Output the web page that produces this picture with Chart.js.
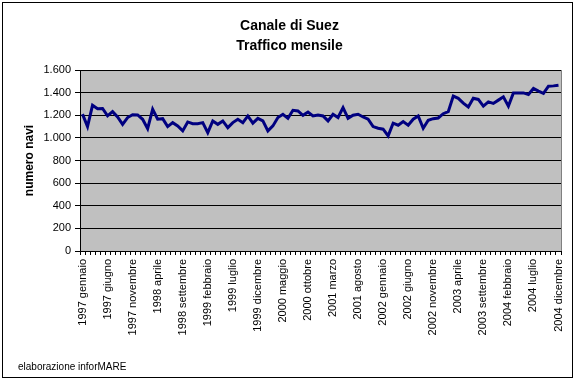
<!DOCTYPE html>
<html>
<head>
<meta charset="utf-8">
<script src="https://cdn.jsdelivr.net/npm/chart.js@4.4.1/dist/chart.umd.min.js"></script>
<style>
  html, body { margin: 0; padding: 0; background: #ffffff; }
  #wrap { width: 579px; height: 384px; }
</style>
</head>
<body>
<div id="wrap"><canvas id="chart" width="579" height="384"></canvas></div>
<script>
// Monthly traffic through the Suez canal, Jan 1997 - Dec 2004
const years = ['1997', '1998', '1999', '2000', '2001', '2002', '2003', '2004'];
const monthNames = ['gennaio', 'febbraio', 'marzo', 'aprile', 'maggio', 'giugno',
  'luglio', 'agosto', 'settembre', 'ottobre', 'novembre', 'dicembre'];

const navi = [
  1210, 1100, 1288, 1258, 1260, 1195, 1232, 1185, 1120, 1180, 1205, 1203, // 1997
  1165, 1082, 1253, 1165, 1170, 1100, 1135, 1106, 1062, 1141, 1126, 1126, // 1998
  1135, 1047, 1150, 1120, 1150, 1091, 1135, 1165, 1135, 1194, 1130, 1173, // 1999
  1150, 1062, 1106, 1180, 1209, 1173, 1244, 1238, 1200, 1229, 1194, 1203, // 2000
  1194, 1150, 1209, 1180, 1268, 1173, 1200, 1209, 1185, 1165, 1100, 1085, // 2001
  1077, 1018, 1130, 1112, 1144, 1112, 1165, 1194, 1085, 1156, 1170, 1176, // 2002
  1214, 1232, 1370, 1350, 1308, 1273, 1350, 1340, 1281, 1319, 1305, 1334, // 2003
  1363, 1281, 1398, 1398, 1398, 1384, 1437, 1413, 1393, 1457, 1460, 1466  // 2004
];

const labelEvery = 5;
const yMax = 1600;
const yStep = 200;

const labels = [];
years.forEach(y => monthNames.forEach(m => labels.push(y + ' ' + m)));

function formatThousands(v) {
  return String(v).replace(/\B(?=(\d{3})+(?!\d))/g, '.');
}

const FONT = '"Liberation Sans", Arial, sans-serif';
Chart.defaults.font.family = FONT;
Chart.defaults.color = '#000000';

// grey plot area, outer frame
const backdrop = {
  id: 'backdrop',
  beforeDraw(chart) {
    const { ctx, chartArea: a } = chart;
    ctx.save();
    ctx.fillStyle = '#ffffff';
    ctx.fillRect(0, 0, chart.width, chart.height);
    ctx.fillStyle = '#c0c0c0';
    ctx.fillRect(a.left, a.top, a.right - a.left, a.bottom - a.top);
    ctx.strokeStyle = '#808080';
    ctx.lineWidth = 1;
    ctx.strokeRect(a.left + 0.5, a.top + 0.5, a.right - a.left, a.bottom - a.top);
    ctx.strokeStyle = '#000000';
    ctx.strokeRect(2.5, 2.5, 570, 375);
    ctx.restore();
  }
};

new Chart(document.getElementById('chart'), {
  type: 'line',
  data: {
    labels: labels,
    datasets: [{
      label: 'numero navi',
      data: navi,
      borderColor: '#000080',
      borderWidth: 3,
      pointRadius: 0,
      tension: 0,
      fill: false,
    }]
  },
  options: {
    responsive: false,
    animation: false,
    devicePixelRatio: 1,
    layout: { padding: { left: 18, right: 18, top: 0, bottom: 0 } },
    plugins: {
      legend: { display: false },
      tooltip: { enabled: false },
      title: {
        display: true,
        text: ['Canale di Suez', 'Traffico mensile'],
        color: '#000000',
        font: { size: 14, weight: 'bold', lineHeight: 1.43 },
        padding: { top: 16, bottom: 14 },
      },
      subtitle: {
        display: true,
        position: 'bottom',
        align: 'start',
        text: 'elaborazione inforMARE',
        color: '#000000',
        font: { size: 10, lineHeight: 1.2 },
        padding: { top: 0, bottom: 11 },
      }
    },
    scales: {
      x: {
        type: 'category',
        offset: true,
        afterFit: (scale) => { scale.height = 110; },
        grid: {
          offset: true,
          drawOnChartArea: false,
          drawTicks: true,
          tickLength: 4,
          color: '#000000',
        },
        border: { display: true, color: '#000000', width: 1 },
        ticks: {
          autoSkip: false,
          maxRotation: 90,
          minRotation: 90,
          padding: 4,
          color: '#000000',
          font: { size: 11 },
          callback: function (val, i) {
            return i % labelEvery === 0 ? this.getLabelForValue(val) : '';
          }
        }
      },
      y: {
        min: 0,
        max: yMax,
        afterFit: (scale) => { scale.width = 62; },
        grid: {
          color: '#000000',
          lineWidth: 1,
          drawTicks: true,
          tickLength: 5,
          tickColor: '#000000',
        },
        border: { display: true, color: '#000000', width: 1 },
        ticks: {
          stepSize: yStep,
          padding: 4,
          color: '#000000',
          font: { size: 11 },
          callback: (v) => formatThousands(v),
        },
        title: {
          display: true,
          text: 'numero navi',
          color: '#000000',
          font: { size: 12, weight: 'bold', lineHeight: 1.2 },
          padding: { top: 4, bottom: 0 },
        }
      }
    }
  },
  plugins: [backdrop]
});
</script>
</body>
</html>
